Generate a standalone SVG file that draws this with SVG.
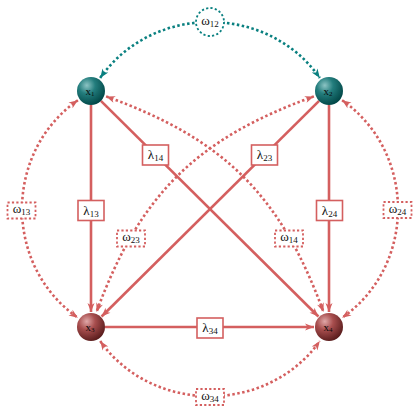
<svg xmlns="http://www.w3.org/2000/svg" width="420" height="420" viewBox="0 0 420 420">
<style>
.solid{fill:none;stroke:#d45f5f;stroke-width:2.6}
.dotr{fill:none;stroke:#d45f5f;stroke-width:2.6;stroke-dasharray:2.5 2.5}
.dott{fill:none;stroke:#0a8080;stroke-width:2.6;stroke-dasharray:2.5 2.5}
.lbox{fill:#fff;stroke:#d45f5f;stroke-width:1.6}
.wbox{fill:#fff;stroke:#d45f5f;stroke-width:1.8;stroke-dasharray:2.2 2.2}
.wcirc{fill:#fff;stroke:#0a8080;stroke-width:1.8;stroke-dasharray:2.2 2.2}
.lt{font-family:"Liberation Serif","DejaVu Serif",serif;font-size:13px;fill:#111;text-anchor:middle}
.nt{font-family:"Liberation Serif","DejaVu Serif",serif;font-size:11px;fill:#0a0a0a;text-anchor:middle}
</style>
<defs>
<radialGradient id="gt" cx="0.35" cy="0.3" r="0.75">
<stop offset="0" stop-color="#8cc4c4"/>
<stop offset="0.4" stop-color="#237d7d"/>
<stop offset="1" stop-color="#004444"/>
</radialGradient>
<radialGradient id="gr" cx="0.35" cy="0.3" r="0.75">
<stop offset="0" stop-color="#e0a8a8"/>
<stop offset="0.4" stop-color="#a84e4e"/>
<stop offset="1" stop-color="#561a1a"/>
</radialGradient>
<marker id="ar" markerUnits="userSpaceOnUse" markerWidth="10" markerHeight="8" refX="9" refY="3.5" orient="auto-start-reverse" overflow="visible">
<path d="M0,0 L9,3.5 L0,7 L2.5,3.5 z" fill="#d45f5f"/>
</marker>
<marker id="at" markerUnits="userSpaceOnUse" markerWidth="10" markerHeight="8" refX="9" refY="3.5" orient="auto-start-reverse" overflow="visible">
<path d="M0,0 L9,3.5 L0,7 L2.5,3.5 z" fill="#0a8080"/>
</marker>
</defs>
<g id="connectors">
<path class="dott" d="M100.2,77.9 C152.4,3.4 267.6,3.4 319.8,77.9" marker-start="url(#at)" marker-end="url(#at)"/>
<path class="dotr" d="M77.9,100.2 C3.4,152.4 3.4,265.6 77.9,317.8" marker-start="url(#ar)" marker-end="url(#ar)"/>
<path class="dotr" d="M342.1,100.2 C416.6,152.4 416.6,265.6 342.1,317.8" marker-start="url(#ar)" marker-end="url(#ar)"/>
<path class="dotr" d="M100.2,341.1 C152.4,414.6 267.6,414.6 319.8,341.1" marker-start="url(#ar)" marker-end="url(#ar)"/>
<path class="dotr" d="M106.1,96.4 C223.7,138.8 280.4,194.6 323.5,312" marker-start="url(#ar)" marker-end="url(#ar)"/>
<path class="dotr" d="M313.9,96.4 C196.3,138.8 139.6,194.6 96.5,312" marker-start="url(#ar)" marker-end="url(#ar)"/>
<line class="solid" x1="91" y1="105" x2="91" y2="312" marker-end="url(#ar)"/>
<line class="solid" x1="329" y1="105" x2="329" y2="312" marker-end="url(#ar)"/>
<line class="solid" x1="105" y1="327" x2="314" y2="327" marker-end="url(#ar)"/>
<line class="solid" x1="100.9" y1="100.9" x2="318.4" y2="316.5" marker-end="url(#ar)"/>
<line class="solid" x1="319.1" y1="100.9" x2="101.6" y2="316.5" marker-end="url(#ar)"/>
</g>
<g id="labels">
<g id="w12"><circle class="wcirc" cx="210" cy="22" r="14"/><text class="lt" x="210" y="25">ω<tspan font-size="9" dy="2">12</tspan></text></g>
<g id="w13"><rect class="wbox" x="7.5" y="202.5" width="28" height="16"/><text class="lt" x="21.5" y="213">ω<tspan font-size="9" dy="2">13</tspan></text></g>
<g id="w24"><rect class="wbox" x="383.5" y="202" width="28" height="16"/><text class="lt" x="397.5" y="212.5">ω<tspan font-size="9" dy="2">24</tspan></text></g>
<g id="w34"><rect class="wbox" x="196" y="389" width="28" height="16"/><text class="lt" x="210" y="399.5">ω<tspan font-size="9" dy="2">34</tspan></text></g>
<g id="w23"><rect class="wbox" x="117" y="230.5" width="28" height="16"/><text class="lt" x="131" y="241">ω<tspan font-size="9" dy="2">23</tspan></text></g>
<g id="w14"><rect class="wbox" x="275" y="230.5" width="28" height="16"/><text class="lt" x="289" y="241">ω<tspan font-size="9" dy="2">14</tspan></text></g>
<g id="l13"><rect class="lbox" x="78" y="200.5" width="26" height="20"/><text class="lt" x="91" y="214.5">λ<tspan font-size="9" dy="2">13</tspan></text></g>
<g id="l24"><rect class="lbox" x="316.5" y="200.5" width="26" height="20"/><text class="lt" x="329.5" y="214.5">λ<tspan font-size="9" dy="2">24</tspan></text></g>
<g id="l34"><rect class="lbox" x="197" y="318" width="26" height="20"/><text class="lt" x="210" y="332">λ<tspan font-size="9" dy="2">34</tspan></text></g>
<g id="l14"><rect class="lbox" x="142.5" y="145" width="26" height="20"/><text class="lt" x="155.5" y="159">λ<tspan font-size="9" dy="2">14</tspan></text></g>
<g id="l23"><rect class="lbox" x="251.5" y="145" width="26" height="20"/><text class="lt" x="264.5" y="159">λ<tspan font-size="9" dy="2">23</tspan></text></g>
</g>
<g id="x1"><circle cx="91" cy="91" r="14" fill="url(#gt)"/><text class="nt" x="90" y="94.5">x<tspan font-size="7" dy="1.5">1</tspan></text></g>
<g id="x2"><circle cx="329" cy="91" r="14" fill="url(#gt)"/><text class="nt" x="328" y="94.5">x<tspan font-size="7" dy="1.5">2</tspan></text></g>
<g id="x3"><circle cx="91" cy="327" r="14" fill="url(#gr)"/><text class="nt" x="90" y="330.5">x<tspan font-size="7" dy="1.5">3</tspan></text></g>
<g id="x4"><circle cx="329" cy="327" r="14" fill="url(#gr)"/><text class="nt" x="328" y="330.5">x<tspan font-size="7" dy="1.5">4</tspan></text></g>
</svg>
